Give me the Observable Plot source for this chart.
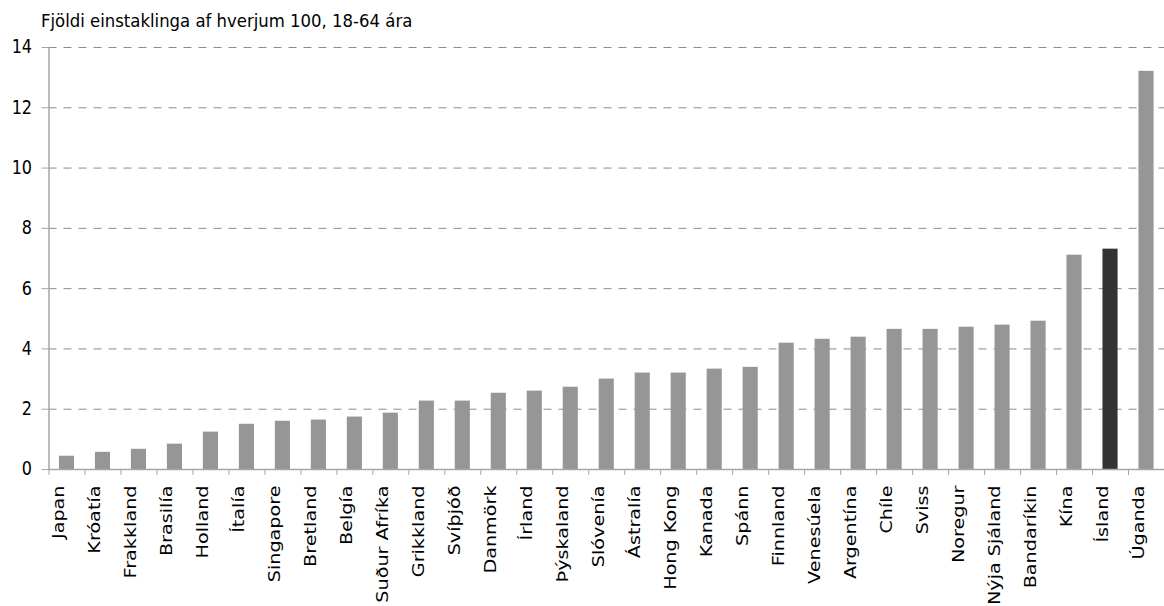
<!DOCTYPE html>
<html>
<head>
<meta charset="utf-8">
<script src="https://cdn.jsdelivr.net/npm/d3@7"></script>
<script src="https://cdn.jsdelivr.net/npm/@observablehq/plot@0.6"></script>
<style>
  body { margin: 0; background: #fff; }
  #title { font-family: "DejaVu Sans", sans-serif; font-size: 16.5px; line-height: 16px; padding: 14px 0 0 41px; height: 16px; color: #000; transform-origin: 0 28px; transform: scaleY(1.1); }
</style>
</head>
<body>
<div id="title">Fjöldi einstaklinga af hverjum 100, 18-64 ára</div>
<div id="chart"></div>
<script>
const countries = ["Japan","Króatía","Frakkland","Brasilía","Holland","Ítalía","Singapore","Bretland","Belgía","Suður Afríka","Grikkland","Svíþjóð","Danmörk","Írland","Þýskaland","Slóvenía","Ástralía","Hong Kong","Kanada","Spánn","Finnland","Venesúela","Argentína","Chíle","Sviss","Noregur","Nýja Sjáland","Bandaríkin","Kína","Ísland","Úganda"];
const values = [0.44,0.57,0.67,0.84,1.24,1.50,1.60,1.64,1.74,1.87,2.27,2.27,2.53,2.60,2.73,3.00,3.20,3.20,3.33,3.39,4.19,4.32,4.39,4.65,4.65,4.72,4.79,4.92,7.11,7.31,13.21];
const highlight = "Ísland";
const yTicks = [0,2,4,6,8,10,12,14];

const data = countries.map((c, i) => ({country: c, value: values[i]}));
const width = 1164, marginLeft = 48.5, marginRight = 0;
const step = (width - marginLeft - marginRight) / countries.length;

const chart = Plot.plot({
  width, height: 576,
  marginTop: 17, marginBottom: 137, marginLeft, marginRight,
  style: {fontFamily: "DejaVu Sans, sans-serif", fontSize: "16px", color: "#000", background: "#fff"},
  x: {domain: countries, paddingInner: 0.58, paddingOuter: 0.29, round: false, label: null},
  y: {domain: [0, 14], label: null},
  marks: [
    Plot.gridY(yTicks.filter(d => d > 0), {stroke: "#8c8c8c", strokeOpacity: 1, strokeDasharray: "8,7"}),
    Plot.barY(data, {x: "country", y: "value", fill: d => d.country === highlight ? "#333333" : "#969696"}),
    Plot.ruleY([0], {stroke: "#a6a6a6", strokeWidth: 1.5}),
    Plot.frame({anchor: "left", stroke: "#a6a6a6", strokeWidth: 1.5}),
    Plot.axisY({ticks: yTicks, tickSize: 7, tickPadding: 10, stroke: "#a6a6a6", fill: "#000", label: null}),
    Plot.axisX({tickSize: 6, tickFormat: () => "", dx: -step / 2, stroke: "#a6a6a6", label: null}),
    Plot.axisX({tickSize: 0, tickRotate: -90, tickPadding: 16, dx: -8, fill: "#000", label: null})
  ]
});
// the reference type is drawn taller than wide: stretch labels along their vertical extent
d3.select(chart).selectAll('g[aria-label="x-axis tick label"] text')
  .attr("transform", function() { return (this.getAttribute("transform") || "") + " scale(1.2,1)"; });
d3.select(chart).selectAll('g[aria-label="y-axis tick label"] text')
  .attr("transform", function() { return (this.getAttribute("transform") || "") + " scale(1,1.17)"; });
document.getElementById("chart").appendChild(chart);
</script>
</body>
</html>
